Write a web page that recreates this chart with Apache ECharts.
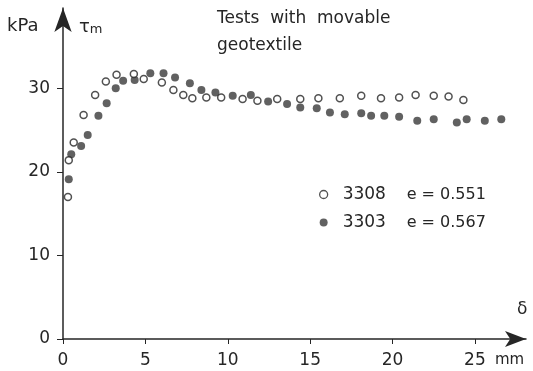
<!DOCTYPE html>
<html>
<head>
<meta charset="utf-8">
<script src="https://cdn.jsdelivr.net/npm/echarts@6/dist/echarts.min.js"></script>
<style>
  html, body { margin: 0; padding: 0; background: #fff; }
  #chart { width: 533px; height: 371px; }
</style>
</head>
<body>
<div id="chart"></div>
<script>
// test 3308, e = 0.551 (open circles)
const openX = [0.3, 0.35, 0.65, 1.25, 1.95, 2.6, 3.25, 4.3, 4.9, 6.0, 6.7, 7.3, 7.85, 8.7, 9.6, 10.9, 11.8, 13.0, 14.4, 15.5, 16.8, 18.1, 19.3, 20.4, 21.4, 22.5, 23.4, 24.3];
const openY = [17.0, 21.4, 23.5, 26.8, 29.2, 30.8, 31.6, 31.7, 31.1, 30.7, 29.8, 29.2, 28.8, 28.9, 28.9, 28.7, 28.5, 28.7, 28.7, 28.8, 28.8, 29.1, 28.8, 28.9, 29.2, 29.1, 29.0, 28.6];

// test 3303, e = 0.567 (filled circles)
const fullX = [0.35, 0.5, 1.1, 1.5, 2.15, 2.65, 3.2, 3.65, 4.35, 5.3, 6.1, 6.8, 7.7, 8.4, 9.25, 10.3, 11.4, 12.45, 13.6, 14.4, 15.4, 16.2, 17.1, 18.1, 18.7, 19.5, 20.4, 21.5, 22.5, 23.9, 24.5, 25.6, 26.6];
const fullY = [19.1, 22.1, 23.1, 24.4, 26.7, 28.2, 30.0, 30.9, 31.0, 31.8, 31.8, 31.3, 30.6, 29.8, 29.5, 29.1, 29.2, 28.4, 28.1, 27.7, 27.6, 27.1, 26.9, 27.0, 26.7, 26.7, 26.6, 26.1, 26.3, 25.9, 26.3, 26.1, 26.3];

const xTicks = [0, 5, 10, 15, 20, 25];
const yTicks = [0, 10, 20, 30];
const seriesNames = ["3308", "3303"];
const seriesE = ["0.551", "0.567"];

const ink = "#262626";
const font = "DejaVu Sans, sans-serif";

const chart = echarts.init(document.getElementById("chart"));

chart.setOption({
  animation: false,
  grid: { left: 63, right: 7, top: 8, bottom: 32 },
  xAxis: {
    type: "value",
    min: 0,
    max: 28.1,
    splitLine: { show: false },
    axisLine: {
      onZero: false,
      symbol: ["none", "arrow"],
      symbolSize: [12, 21],
      lineStyle: { color: ink, width: 1.5 },
    },
    axisTick: { customValues: xTicks, length: 5, lineStyle: { color: ink } },
    axisLabel: {
      customValues: xTicks,
      color: ink,
      fontSize: 17,
      fontFamily: font,
      margin: 13,
    },
  },
  yAxis: {
    type: "value",
    min: 0,
    max: 39.6,
    splitLine: { show: false },
    axisLine: {
      onZero: false,
      symbol: ["none", "arrow"],
      symbolSize: [13, 24],
      lineStyle: { color: ink, width: 1.5 },
    },
    axisTick: { customValues: yTicks, length: 6, lineStyle: { color: ink } },
    axisLabel: {
      customValues: yTicks,
      color: ink,
      fontSize: 17,
      fontFamily: font,
      margin: 13,
    },
  },
  legend: {
    orient: "vertical",
    left: 314,
    top: 181,
    itemWidth: 8,
    itemHeight: 8,
    itemGap: 11,
    textStyle: {
      color: ink,
      fontSize: 17,
      fontFamily: font,
      padding: [0, 0, 0, 10],
      rich: {
        n: { fontSize: 17, fontFamily: font, color: ink, width: 64 },
        e: { fontSize: 16, fontFamily: font, color: ink },
      },
    },
    formatter: (name) => "{n|" + name + "}{e|e = " + seriesE[seriesNames.indexOf(name)] + "}",
    data: [
      { name: seriesNames[0], icon: "circle", itemStyle: { color: "#fff", borderColor: ink, borderWidth: 1.3 } },
      { name: seriesNames[1], icon: "circle", itemStyle: { color: "#3a3a3a", borderWidth: 0 } },
    ],
  },
  graphic: [
    { type: "text", left: 7, top: 17, style: { text: "kPa", fill: ink, font: "18px " + font } },
    {
      type: "text", left: 79, top: 18,
      style: {
        text: "{t|τ}{s|m}",
        fill: ink,
        rich: {
          t: { fontSize: 18, fontFamily: font, fill: ink },
          s: { fontSize: 13, fontFamily: font, fill: ink, padding: [6, 0, 0, 0] },
        },
      },
    },
    { type: "text", left: 217, top: 10, style: { text: "Tests  with  movable", fill: ink, font: "17px " + font } },
    { type: "text", left: 217, top: 37, style: { text: "geotextile", fill: ink, font: "17px " + font } },
    { type: "text", left: 517, top: 301, style: { text: "δ", fill: ink, font: "17px " + font } },
    { type: "text", left: 495, top: 353, style: { text: "mm", fill: ink, font: "15px " + font } },
  ],
  series: [
    {
      name: seriesNames[0],
      type: "scatter",
      symbol: "circle",
      symbolSize: 7,
      z: 3,
      itemStyle: { color: "#fff", borderColor: ink, borderWidth: 1.5 },
      data: openX.map((x, i) => [x, openY[i]]),
    },
    {
      name: seriesNames[1],
      type: "scatter",
      symbol: "circle",
      symbolSize: 8,
      z: 2,
      itemStyle: { color: "#3a3a3a" },
      data: fullX.map((x, i) => [x, fullY[i]]),
    },
  ],
});
</script>
</body>
</html>
